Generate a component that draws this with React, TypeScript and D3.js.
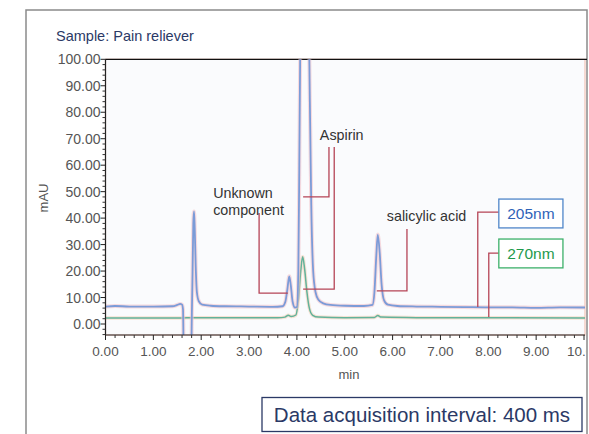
import React from "react";
import * as d3 from "d3";

// ---- Data (time in min, absorbance in mAU) ----
const xTicks = [0, 1, 2, 3, 4, 5, 6, 7, 8, 9, 10];
const yTicks = [0, 10, 20, 30, 40, 50, 60, 70, 80, 90, 100];

const trace205: [number, number][] = [
  [0.0, 6.6], [0.2, 6.8], [0.5, 6.6], [1.0, 6.6], [1.4, 6.7], [1.5, 7.2], [1.56, 7.6],
  [1.6, 7.3], [1.62, 5.5], [1.635, -12], [1.79, -12], [1.805, 4], [1.82, 20], [1.835, 38],
  [1.85, 42.5], [1.865, 36], [1.885, 22], [1.91, 12], [1.95, 8.6], [2.02, 7.3], [2.2, 6.9],
  [2.5, 6.7], [3.0, 6.6], [3.5, 6.5], [3.7, 6.7], [3.76, 8.5], [3.8, 13], [3.84, 18],
  [3.87, 15], [3.91, 8.5], [3.96, 6.2], [4.0, 6.4], [4.03, 20], [4.05, 60], [4.07, 105],
  [4.12, 190], [4.17, 210], [4.22, 160], [4.26, 100], [4.3, 45], [4.34, 20], [4.39, 12],
  [4.45, 9.2], [4.55, 7.8], [4.7, 7.2], [5.0, 6.9], [5.4, 6.8], [5.58, 7.2], [5.62, 12],
  [5.66, 26], [5.69, 33.8], [5.73, 27], [5.77, 15], [5.82, 9], [5.9, 7.3], [6.1, 6.8],
  [6.5, 6.6], [7.0, 6.5], [7.5, 6.4], [8.0, 6.3], [8.5, 6.3], [9.0, 6.1], [9.5, 6.3], [10.3, 6.2],
];

const trace270: [number, number][] = [
  [0.0, 2.3], [1.0, 2.3], [1.6, 2.3], [1.8, 2.4], [2.5, 2.4], [3.6, 2.4], [3.75, 2.6],
  [3.82, 3.3], [3.88, 2.8], [3.98, 3.4], [4.03, 9], [4.08, 20], [4.12, 25.4], [4.16, 21],
  [4.21, 12], [4.26, 6], [4.33, 3.3], [4.45, 2.6], [5.0, 2.4], [5.62, 2.5], [5.69, 3.2],
  [5.76, 2.6], [6.5, 2.4], [10.3, 2.3],
];

// Annotation connectors in data units: [t, mAU] polyline points
const peakLabels = [
  { lines: ["Unknown", "component"], at: [2.25, 47.6] as [number, number], path: [[3.21, 41.9], [3.21, 11.7], [3.81, 11.7]] },
  { lines: ["Aspirin"], at: [4.48, 69.6] as [number, number], path: [[4.67, 66.9], [4.67, 48.0], [4.13, 48.0]] },
  { lines: [], at: [0, 0] as [number, number], path: [[4.78, 66.9], [4.78, 13.2], [4.13, 13.2]] },
  { lines: ["salicylic acid"], at: [5.88, 38.8] as [number, number], path: [[6.3, 35.9], [6.3, 12.5], [5.67, 12.5]] },
];

const legendItems = [
  { label: "205nm", color: "#2f63b8", border: "#4f86c9", box: [8.22, 47.2, 9.56, 36.3], path: [[8.22, 42.3], [7.78, 42.3], [7.78, 6.4]] },
  { label: "270nm", color: "#1f9a4c", border: "#3cb06a", box: [8.22, 32.1, 9.56, 21.2], path: [[8.22, 26.8], [8.01, 26.8], [8.01, 2.6]] },
];

const W = 589;
const H = 434;

export default function App() {
  const x = d3.scaleLinear().domain([0, 10]).range([105.5, 584]);
  const y = d3.scaleLinear().domain([0, 100]).range([324, 59.3]);
  const left = x(0);
  const right = 585;
  const top = y(100);
  const bottom = 335;

  const line = d3
    .line<[number, number]>()
    .x((d) => x(d[0]))
    .y((d) => y(d[1]))
    .curve(d3.curveMonotoneX);

  const poly = d3
    .line<number[]>()
    .x((d) => x(d[0]))
    .y((d) => y(d[1]));

  const minorY = d3.range(-4, 101, 2).filter((v) => v % 10 !== 0);
  const minorX = d3.range(0, 10.21, 0.2).filter((v) => Math.abs(v - Math.round(v)) > 0.01);

  const font = "'Liberation Sans', Arial, Helvetica, sans-serif";

  return (
    <svg
      width={W}
      height={H}
      style={{ position: "absolute", left: 0, top: 0, background: "#fff" }}
      fontFamily={font}
    >
      <defs>
        <clipPath id="plotClip">
          <rect x={left} y={top} width={right - left} height={bottom - top} />
        </clipPath>
        <clipPath id="frameClip">
          <rect x={26} y={10} width={560} height={H - 10} />
        </clipPath>
      </defs>

      {/* outer frame */}
      <path d={`M26,${H} L26,10 L587,10 L587,${H}`} fill="none" stroke="#8a8a8a" strokeWidth={1.5} />

      <text x={56} y={41} fontSize={14.5} fill="#2b3966">Sample: Pain reliever</text>

      {/* plot area */}
      <rect x={left} y={top} width={right - left} height={bottom - top} fill="#fafbfd" stroke="#f2c4b8" strokeWidth={1.2} />
      <line x1={left} x2={587} y1={top} y2={top} stroke="#111" strokeWidth={1.3} />

      {/* traces */}
      <g clipPath="url(#plotClip)">
        <path d={line(trace270) || ""} fill="none" stroke="#f4d2b8" strokeWidth={3.5} opacity={0.6} />
        <path d={line(trace270) || ""} fill="none" stroke="#62b29a" strokeWidth={1.5} />
        <path d={line(trace205) || ""} fill="none" stroke="#f2c4cc" strokeWidth={4} opacity={0.6} />
        <path d={line(trace205) || ""} fill="none" stroke="#7b9bd8" strokeWidth={1.8} />
      </g>

      {/* axes */}
      <line x1={left} x2={left} y1={top} y2={bottom} stroke="#222" strokeWidth={1.2} />
      <line x1={left} x2={right} y1={bottom} y2={bottom} stroke="#222" strokeWidth={1.2} />
      {yTicks.map((v) => (
        <g key={"yt" + v}>
          <line x1={left - 5} x2={left} y1={y(v)} y2={y(v)} stroke="#222" />
          <text x={left - 5} y={y(v)} dy="0.36em" textAnchor="end" fontSize={14} fill="#555">
            {v.toFixed(2)}
          </text>
        </g>
      ))}
      {minorY.map((v) => (
        <line key={"ym" + v} x1={left - 3} x2={left} y1={y(v)} y2={y(v)} stroke="#333" />
      ))}
      <g clipPath="url(#frameClip)">
        {xTicks.map((v) => (
          <g key={"xt" + v}>
            <line x1={x(v)} x2={x(v)} y1={bottom} y2={bottom + 5} stroke="#222" />
            <text x={x(v)} y={356} textAnchor="middle" fontSize={13.5} fill="#555">
              {v.toFixed(2)}
            </text>
          </g>
        ))}
      </g>
      {minorX.map((v) => (
        <line key={"xm" + v} x1={x(v)} x2={x(v)} y1={bottom} y2={bottom + 3} stroke="#333" />
      ))}
      <text x={349} y={379} textAnchor="middle" fontSize={13} fill="#555">min</text>
      <text transform="translate(48,198) rotate(-90)" textAnchor="middle" fontSize={13} fill="#555">mAU</text>

      {/* peak annotations */}
      {peakLabels.map((p, i) => (
        <g key={"pl" + i}>
          <path d={poly(p.path) || ""} fill="none" stroke="#b54456" strokeWidth={1.3} />
          {p.lines.map((t, j) => (
            <text key={j} x={x(p.at[0])} y={y(p.at[1]) + j * 17} fontSize={14.3} fill="#333">
              {t}
            </text>
          ))}
        </g>
      ))}

      {/* legend boxes */}
      {legendItems.map((l) => (
        <g key={l.label}>
          <path d={poly(l.path) || ""} fill="none" stroke="#b54456" strokeWidth={1.3} />
          <rect
            x={x(l.box[0])}
            y={y(l.box[1])}
            width={x(l.box[2]) - x(l.box[0])}
            height={y(l.box[3]) - y(l.box[1])}
            fill="#fff"
            stroke={l.border}
            strokeWidth={1.3}
          />
          <text
            x={(x(l.box[0]) + x(l.box[2])) / 2}
            y={(y(l.box[1]) + y(l.box[3])) / 2}
            dy="0.36em"
            textAnchor="middle"
            fontSize={15.5}
            fill={l.color}
          >
            {l.label}
          </text>
        </g>
      ))}

      {/* acquisition interval box */}
      <rect x={262} y={397.5} width={320} height={34} fill="#fff" stroke="#2b3966" strokeWidth={1.3} />
      <text x={422} y={414.5} dy="0.36em" textAnchor="middle" fontSize={20.5} fill="#2b3966">
        Data acquisition interval: 400 ms
      </text>
    </svg>
  );
}
